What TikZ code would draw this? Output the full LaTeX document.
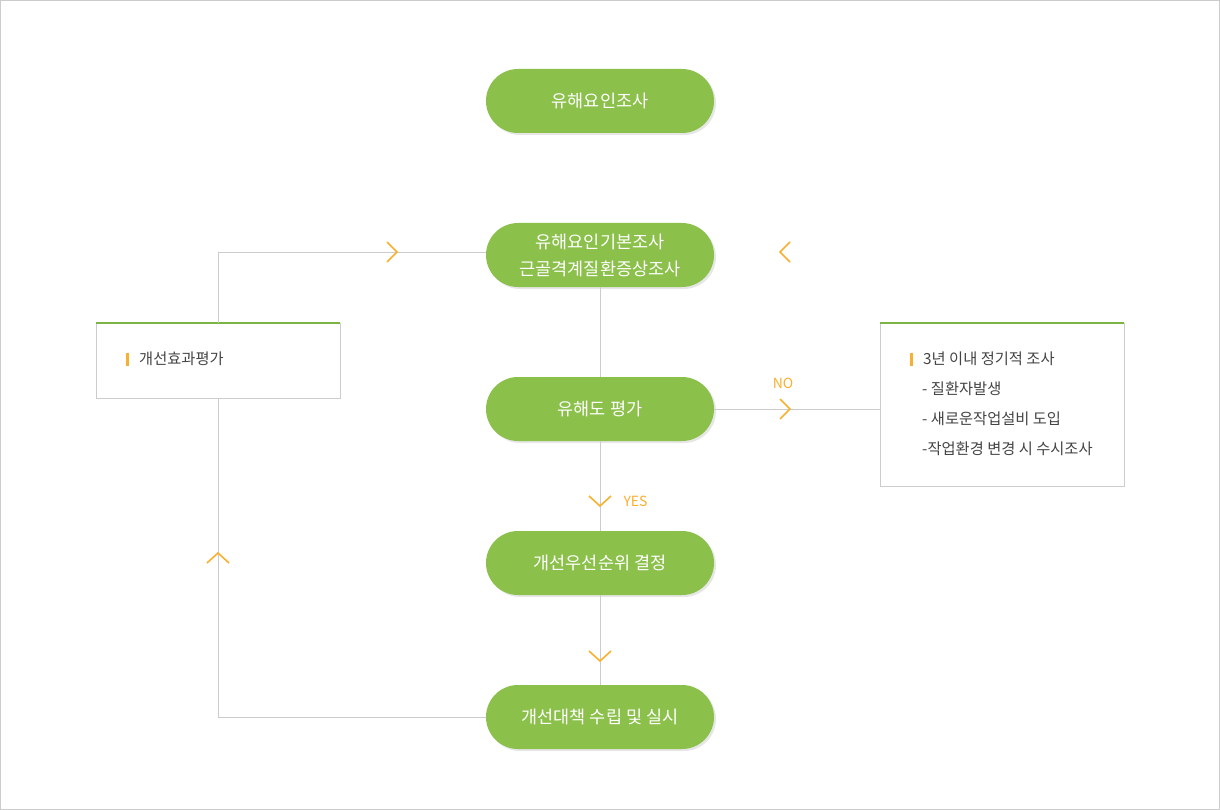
\documentclass[tikz,border=0pt]{standalone}
\usepackage{fontspec}
\setmainfont{Noto Sans CJK KR}
\usetikzlibrary{shadows}
\definecolor{leaf}{HTML}{8BC04B}
\definecolor{leafline}{HTML}{7CB342}
\definecolor{amber}{HTML}{F9B02E}
\definecolor{wire}{HTML}{CCCCCC}
\definecolor{ink}{HTML}{444444}
\tikzset{
  stage/.style={rectangle, rounded corners=32pt, fill=leaf, text=white,
    minimum width=228pt, minimum height=64pt, align=center,
    font=\fontsize{17.5}{27}\selectfont,
    drop shadow={opacity=0.2, shadow xshift=2pt, shadow yshift=-2pt}},
  panel/.style={rectangle, draw=wire, fill=white, minimum width=244pt},
  item/.style={anchor=west, text=ink, inner sep=0pt, font=\fontsize{15.3}{17}\selectfont},
  wire/.style={draw=wire, line width=0.8pt},
  chev/.style={draw=amber, line width=1.6pt},
  tag/.style={text=amber, font=\fontsize{14}{16}\selectfont}
}
\begin{document}
\begin{tikzpicture}[x=1pt,y=-1pt]
  \useasboundingbox (0,0) rectangle (1220,810);
  \draw[wire] (0.5,0.5) rectangle (1219.5,809.5);

  \node[stage] (survey) at (600,101) {유해요인조사};
  \node[stage] (basic) at (600,255) {유해요인기본조사\\근골격계질환증상조사};
  \node[stage] (assess) at (600,409) {유해도 평가};
  \node[stage] (rank) at (600,563) {개선우선순위 결정};
  \node[stage] (act) at (600,717) {개선대책 수립 및 실시};

  \node[panel, minimum height=75pt] (effect) at (218,360.5) {};
  \node[panel, minimum height=163pt] (recheck) at (1002,404.5) {};
  \draw[leafline, line width=2pt] (effect.north west) -- (effect.north east);
  \draw[leafline, line width=2pt] (recheck.north west) -- (recheck.north east);

  \node[item] (e1) at (139,359) {개선효과평가};
  \node[item] (r1) at (923,359) {3년 이내 정기적 조사};
  \node[item] (r2) at (922,389) {- 질환자발생};
  \node[item] (r3) at (922,419) {- 새로운작업설비 도입};
  \node[item] (r4) at (922,449) {-작업환경 변경 시 수시조사};
  \fill[amber] ([xshift=-13pt]e1.west) ++(0,-6.5) rectangle ++(3,13);
  \fill[amber] ([xshift=-13pt]r1.west) ++(0,-6.5) rectangle ++(3,13);

  \draw[wire] (basic) -- (assess);
  \draw[wire] (assess) -- (rank);
  \draw[wire] (rank) -- (act);
  \draw[wire] (effect.north) |- ([yshift=3pt]basic.west);
  \draw[wire] (effect.south) |- (act.west);
  \draw[wire] (assess.east) -- (assess.east -| recheck.west);

  \node[tag] (no) at (783,383) {NO};
  \node[tag, anchor=west] (yes) at (620,501) {YES};

  \draw[chev] (387,242) -- ++(10,10) -- ++(-10,10);
  \draw[chev] (790,242) -- ++(-10,10) -- ++(10,10);
  \draw[chev] (780,399) -- ++(10,10) -- ++(-10,10);
  \draw[chev] (589,496) -- ++(11,10) -- ++(11,-10);
  \draw[chev] (589,651) -- ++(11,10) -- ++(11,-10);
  \draw[chev] (207,563) -- ++(11,-10) -- ++(11,10);
\end{tikzpicture}
\end{document}
